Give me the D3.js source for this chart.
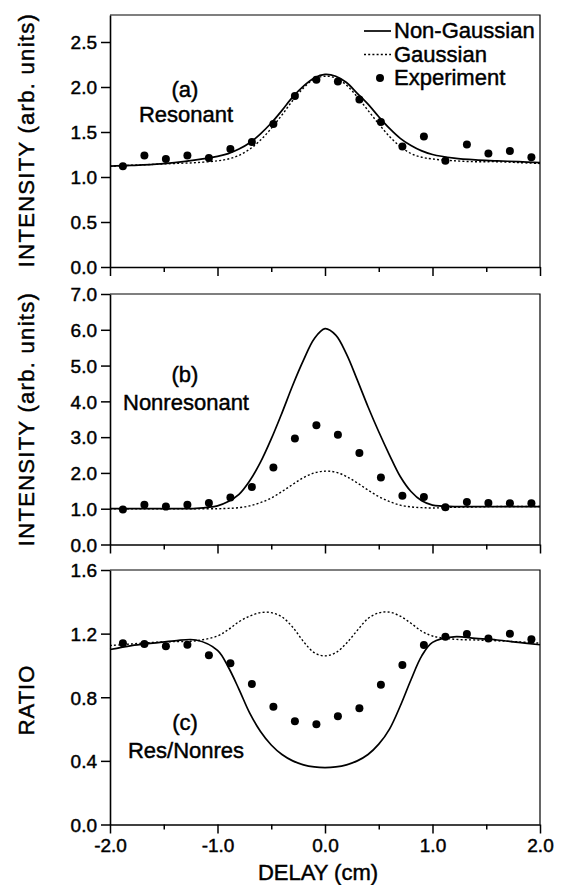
<!DOCTYPE html>
<html>
<head>
<meta charset="utf-8">
<script src="https://cdn.jsdelivr.net/npm/d3@7"></script>
<style>
  body { margin: 0; background: #fff; }
  svg text { font-family: "Liberation Sans", Arial, sans-serif; fill: #000; stroke: #000; stroke-width: 0.45px; }
</style>
</head>
<body>
<div id="chart"></div>
<script>
// sample points of the model curves (delay in cm)
const delay = [-2.0, -1.8, -1.6, -1.4, -1.2, -1.0, -0.9, -0.8, -0.7, -0.6, -0.5, -0.4, -0.3, -0.2, -0.1, 0.0,
  0.1, 0.2, 0.3, 0.4, 0.5, 0.6, 0.7, 0.8, 0.9, 1.0, 1.2, 1.4, 1.6, 1.8, 2.0];

// (a) resonant
const resNonGauss = [1.12, 1.13, 1.14, 1.16, 1.19, 1.23, 1.26, 1.31, 1.38, 1.48, 1.60, 1.74, 1.89, 2.01, 2.10, 2.14,
  2.12, 2.05, 1.93, 1.81, 1.67, 1.54, 1.43, 1.35, 1.29, 1.25, 1.21, 1.19, 1.18, 1.17, 1.16];
const resGauss = [1.12, 1.13, 1.14, 1.15, 1.16, 1.18, 1.20, 1.24, 1.31, 1.41, 1.54, 1.69, 1.85, 1.99, 2.09, 2.12,
  2.10, 2.02, 1.89, 1.74, 1.59, 1.45, 1.34, 1.26, 1.22, 1.20, 1.18, 1.17, 1.17, 1.16, 1.15];

// (b) nonresonant
const nonresNonGauss = [1.0, 1.0, 1.0, 1.0, 1.01, 1.08, 1.2, 1.4, 1.78, 2.3, 2.95, 3.68, 4.45, 5.15, 5.75, 6.03,
  5.85, 5.32, 4.6, 3.85, 3.15, 2.5, 1.9, 1.48, 1.22, 1.1, 1.06, 1.06, 1.06, 1.06, 1.06];
const nonresGauss = [1.0, 1.0, 1.0, 1.0, 1.0, 1.0, 1.01, 1.03, 1.08, 1.17, 1.3, 1.48, 1.68, 1.87, 2.0, 2.05,
  2.02, 1.9, 1.72, 1.52, 1.34, 1.2, 1.1, 1.05, 1.03, 1.02, 1.04, 1.05, 1.06, 1.06, 1.06];

// (c) ratio
const ratioNonGauss = [1.10, 1.125, 1.14, 1.155, 1.16, 1.095, 0.99, 0.85, 0.70, 0.585, 0.50, 0.44, 0.40, 0.375, 0.362, 0.358,
  0.362, 0.375, 0.40, 0.44, 0.505, 0.60, 0.745, 0.91, 1.06, 1.145, 1.18, 1.17, 1.16, 1.145, 1.13];
const ratioGauss = [1.125, 1.135, 1.145, 1.15, 1.155, 1.185, 1.225, 1.275, 1.31, 1.332, 1.332, 1.305, 1.24, 1.15, 1.08, 1.06,
  1.08, 1.14, 1.22, 1.295, 1.33, 1.335, 1.31, 1.265, 1.215, 1.185, 1.165, 1.16, 1.155, 1.148, 1.14];

// experiment
const expDelay = [-1.88, -1.68, -1.48, -1.28, -1.08, -0.88, -0.68, -0.48, -0.28, -0.08,
  0.12, 0.32, 0.52, 0.72, 0.92, 1.12, 1.32, 1.52, 1.72, 1.92];
const expRes = [1.12, 1.24, 1.20, 1.24, 1.21, 1.31, 1.39, 1.59, 1.90, 2.08,
  2.06, 1.86, 1.61, 1.34, 1.45, 1.18, 1.36, 1.26, 1.29, 1.22];
const expNonres = [0.98, 1.11, 1.06, 1.11, 1.16, 1.31, 1.61, 2.15, 2.96, 3.33,
  3.07, 2.56, 1.87, 1.36, 1.33, 1.04, 1.19, 1.16, 1.15, 1.15];
const expRatio = [1.14, 1.135, 1.12, 1.13, 1.064, 1.013, 0.883, 0.741, 0.649, 0.630,
  0.680, 0.731, 0.879, 1.003, 1.128, 1.181, 1.198, 1.170, 1.200, 1.164];

const xMajor = [-2.0, -1.0, 0.0, 1.0, 2.0],
  xMinor = [-1.5, -0.5, 0.5, 1.5];

const W = 569, H = 885;
const svg = d3.select("#chart").append("svg")
  .attr("width", W).attr("height", H);

const x = d3.scaleLinear().domain([-2, 2]).range([110, 540]);

// plain hyphen instead of the unicode minus
const fmt1 = function(d) { return d3.format(".1f")(d).replace("\u2212", "-"); };

const panels = [
  { id: "a", yMax: 2.8, top: 15, bottom: 267, ticks: [0, 0.5, 1.0, 1.5, 2.0, 2.5],
    ng: resNonGauss, g: resGauss, exp: expRes, label1: "(a)", label2: "Resonant",
    l1y: 97, l2y: 122, ytitle: "INTENSITY (arb. units)", tY: 140 },
  { id: "b", yMax: 7, top: 294, bottom: 544.5, ticks: [0, 1, 2, 3, 4, 5, 6, 7],
    ng: nonresNonGauss, g: nonresGauss, exp: expNonres, label1: "(b)", label2: "Nonresonant",
    l1y: 382, l2y: 410, ytitle: "INTENSITY (arb. units)", tY: 419 },
  { id: "c", yMax: 1.6, top: 570, bottom: 824.5, ticks: [0, 0.4, 0.8, 1.2, 1.6],
    ng: ratioNonGauss, g: ratioGauss, exp: expRatio, label1: "(c)", label2: "Res/Nonres",
    l1y: 730, l2y: 758, ytitle: "RATIO", tY: 700 }
];

panels.forEach(function(p, idx) {
  const y = d3.scaleLinear().domain([0, p.yMax]).range([p.bottom, p.top]);
  const g = svg.append("g").attr("class", "panel-" + p.id);

  // frame top + right
  g.append("path")
    .attr("d", "M" + x(-2) + "," + y(p.yMax) + "H" + x(2) + "V" + y(0))
    .attr("fill", "none").attr("stroke", "#000").attr("stroke-width", 1.2);

  // y axis
  const yAxis = g.append("g")
    .attr("transform", "translate(" + x(-2) + ",0)")
    .call(d3.axisLeft(y).tickValues(p.ticks).tickFormat(fmt1).tickSize(9).tickPadding(4).tickSizeOuter(0));
  yAxis.select(".domain").attr("stroke-width", 1.6);
  yAxis.selectAll(".tick line").attr("stroke-width", 1.5);
  yAxis.selectAll("text").attr("font-size", 19).attr("font-family", "Liberation Sans, Arial, sans-serif").attr("dy", "0.36em");

  // x axis: major + minor ticks
  const last = idx === panels.length - 1;
  const xAxis = g.append("g")
    .attr("transform", "translate(0," + y(0) + ")")
    .call(d3.axisBottom(x).tickValues(xMajor).tickSize(9).tickPadding(5)
      .tickFormat(last ? fmt1 : "").tickSizeOuter(0));
  xAxis.select(".domain").attr("stroke-width", 1.6);
  xAxis.selectAll(".tick line").attr("stroke-width", 1.5);
  xAxis.selectAll("text").attr("font-size", 19).attr("font-family", "Liberation Sans, Arial, sans-serif");
  g.append("g")
    .attr("transform", "translate(0," + y(0) + ")")
    .call(d3.axisBottom(x).tickValues(xMinor).tickSize(5).tickFormat("").tickSizeOuter(0))
    .call(a => a.select(".domain").remove())
    .selectAll(".tick line").attr("stroke-width", 1.5);

  const line = d3.line()
    .curve(d3.curveCatmullRom.alpha(0.5))
    .x(function(d, i) { return x(delay[i]); })
    .y(function(d) { return y(d); });

  g.append("path").datum(p.g)
    .attr("fill", "none").attr("stroke", "#000").attr("stroke-width", 1.4)
    .attr("stroke-dasharray", "2,2.2")
    .attr("d", line);
  g.append("path").datum(p.ng)
    .attr("fill", "none").attr("stroke", "#000").attr("stroke-width", 1.7)
    .attr("d", line);

  g.selectAll(".pt").data(p.exp).join("circle")
    .attr("class", "pt")
    .attr("cx", function(d, i) { return x(expDelay[i]); })
    .attr("cy", function(d) { return y(d); })
    .attr("r", 4)
    .attr("fill", "#000");

  // panel labels
  g.append("text").attr("x", 185).attr("y", p.l1y).attr("text-anchor", "middle")
    .attr("font-size", 22).text(p.label1);
  g.append("text").attr("x", 186).attr("y", p.l2y).attr("text-anchor", "middle")
    .attr("font-size", 22).text(p.label2);

  // y title
  g.append("text")
    .attr("transform", "translate(34," + p.tY + ") rotate(-90)")
    .attr("text-anchor", "middle")
    .attr("font-size", 22)
    .attr("letter-spacing", p.id === "c" ? 1 : 1.3)
    .text(p.ytitle);
});

// x title
svg.append("text")
  .attr("x", 318).attr("y", 880)
  .attr("text-anchor", "middle")
  .attr("font-size", 22)
  .text("DELAY (cm)");

// legend
const leg = svg.append("g").attr("class", "legend");
leg.append("line").attr("x1", 364).attr("x2", 391).attr("y1", 31).attr("y2", 31)
  .attr("stroke", "#000").attr("stroke-width", 1.7);
leg.append("line").attr("x1", 364).attr("x2", 391).attr("y1", 54.5).attr("y2", 54.5)
  .attr("stroke", "#000").attr("stroke-width", 1.4).attr("stroke-dasharray", "2,2.2");
leg.append("circle").attr("cx", 380).attr("cy", 78).attr("r", 4).attr("fill", "#000");
["Non-Gaussian", "Gaussian", "Experiment"].forEach(function(t, i) {
  leg.append("text").attr("x", 394).attr("y", 38 + i * 23.5)
    .attr("font-size", 22).text(t);
});
</script>
</body>
</html>
